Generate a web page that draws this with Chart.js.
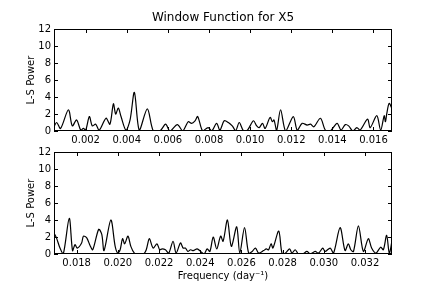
<!DOCTYPE html>
<html>
<head>
<meta charset="utf-8">
<script src="https://cdn.jsdelivr.net/npm/chart.js@4.4.1/dist/chart.umd.min.js"></script>
<style>
  html, body { margin: 0; padding: 0; background: #fff; }
  #wrap { position: relative; width: 436px; height: 291px; }
  canvas { position: absolute; left: 0; }
</style>
</head>
<body>
<div id="wrap">
  <canvas id="top" width="436" height="150" style="top:0"></canvas>
  <canvas id="bottom" width="436" height="160" style="top:130px"></canvas>
</div>
<script>
// window function, top panel (frequency in day^-1, L-S power)
const topFreq = [
  0.00046, 0.00059, 0.00078, 0.00116, 0.00135, 0.00156, 0.00176, 0.00189, 0.00200, 0.00218,
  0.00232, 0.00249, 0.00266, 0.00299, 0.00318, 0.00335, 0.00346, 0.00359, 0.00372, 0.00396,
  0.00416, 0.00437, 0.00461, 0.00500, 0.00529, 0.00561, 0.00589, 0.00610, 0.00646, 0.00672,
  0.00699, 0.00715, 0.00732, 0.00745, 0.00769, 0.00796, 0.00813, 0.00837, 0.00853, 0.00874,
  0.00894, 0.00913, 0.00930, 0.00947, 0.00968, 0.00987, 0.01016, 0.01032, 0.01044, 0.01060,
  0.01073, 0.01097, 0.01108, 0.01116, 0.01129, 0.01148, 0.01173, 0.01210, 0.01229, 0.01253,
  0.01277, 0.01294, 0.01310, 0.01342, 0.01366, 0.01390, 0.01423, 0.01442, 0.01463, 0.01479,
  0.01500, 0.01519, 0.01535, 0.01571, 0.01584, 0.01616, 0.01635, 0.01652, 0.01658, 0.01665,
  0.01676, 0.01689
];
const topPower = [
  0.5, 1.0, 0.3, 2.5, 0.6, 1.3, 0.1, 0.3, 0.1, 1.7,
  0.6, 0.8, 0.1, 1.5, 0.8, 3.2, 2.0, 2.7, 1.7, 0.1,
  1.3, 4.55, 0.1, 2.6, 0.0, 0.0, 0.8, 0.0, 0.75, 0.0,
  1.1, 0.9, 1.2, 1.7, 0.0, 0.4, 0.0, 0.9, 0.1, 1.2,
  1.0, 0.6, 0.05, 1.0, 0.0, 0.1, 1.2, 0.6, 0.4, 0.9,
  0.3, 1.6, 1.1, 1.3, 0.1, 2.5, 0.0, 1.7, 0.1, 0.9,
  0.7, 0.8, 0.5, 1.5, 0.1, 0.0, 0.9, 0.1, 0.75, 0.6,
  0.0, 0.4, 0.1, 1.4, 0.4, 1.8, 0.1, 1.8, 1.1, 2.1,
  3.25, 2.7
];
const topTicks = [0.002, 0.004, 0.006, 0.008, 0.010, 0.012, 0.014, 0.016];

// bottom panel
const botFreq = [
  0.01689, 0.01702, 0.01719, 0.01735, 0.01764, 0.01780, 0.01792, 0.01803, 0.01824, 0.01833,
  0.01849, 0.01865, 0.01878, 0.01907, 0.01922, 0.01933, 0.01966, 0.01987, 0.02000, 0.02011,
  0.02023, 0.02033, 0.02049, 0.02063, 0.02080, 0.02093, 0.02125, 0.02138, 0.02153, 0.02171,
  0.02190, 0.02203, 0.02215, 0.02231, 0.02247, 0.02268, 0.02283, 0.02304, 0.02317, 0.02328,
  0.02340, 0.02353, 0.02366, 0.02385, 0.02402, 0.02418, 0.02434, 0.02447, 0.02463, 0.02480,
  0.02499, 0.02511, 0.02532, 0.02551, 0.02577, 0.02592, 0.02615, 0.02635, 0.02652, 0.02668,
  0.02684, 0.02708, 0.02721, 0.02732, 0.02744, 0.02753, 0.02781, 0.02797, 0.02813, 0.02834,
  0.02845, 0.02861, 0.02877, 0.02898, 0.02918, 0.02934, 0.02958, 0.02974, 0.02995, 0.03006,
  0.03031, 0.03047, 0.03079, 0.03103, 0.03119, 0.03131, 0.03144, 0.03168, 0.03192, 0.03216,
  0.03232, 0.03253, 0.03276, 0.03289, 0.03305, 0.03318, 0.03332
];
const botPower = [
  2.5, 1.9, 0.7, 0.0, 4.2, 0.4, 1.1, 0.7, 1.3, 2.1,
  1.9, 1.0, 0.5, 2.9, 2.3, 0.4, 4.0, 0.9, 0.1, 0.5,
  1.8, 1.2, 2.1, 0.9, 0.1, 0.0, 0.0, 0.5, 1.8, 0.7,
  1.2, 0.5, 0.6, 0.5, 0.1, 1.5, 0.1, 1.3, 0.7, 0.7,
  0.3, 0.5, 0.4, 0.6, 0.3, 0.0, 0.6, 0.3, 2.0, 0.6,
  2.1, 1.5, 4.0, 0.9, 3.2, 0.1, 3.1, 0.1, 0.3, 0.7,
  0.1, 0.4, 0.6, 0.5, 1.2, 0.7, 2.7, 0.1, 0.1, 0.6,
  0.1, 0.5, 0.0, 0.0, 0.3, 0.0, 0.3, 0.1, 0.7, 0.3,
  0.7, 0.1, 3.1, 0.4, 1.2, 0.5, 0.3, 3.3, 0.3, 1.8,
  0.7, 0.1, 0.8, 0.5, 2.2, 0.1, 1.7
];
const botTicks = [0.018, 0.020, 0.022, 0.024, 0.026, 0.028, 0.030, 0.032];

const powerTicks = [0, 2, 4, 6, 8, 10, 12];

const FONT = '"DejaVu Sans", "Bitstream Vera Sans", sans-serif';
Chart.defaults.font.family = FONT;
Chart.defaults.font.size = 10;
Chart.defaults.color = '#000';

// matplotlib-like frame with inward ticks on all four sides, plus the texts
const framePlugin = {
  id: 'frame',
  afterDraw(chart, args, opts) {
    const { ctx, chartArea: { left, right, top, bottom }, scales: { x, y } } = chart;
    ctx.save();
    ctx.strokeStyle = '#000';
    ctx.lineWidth = 1;
    ctx.strokeRect(left + 0.5, top + 0.5, right - left - 1, bottom - top - 1);
    ctx.beginPath();
    x.ticks.forEach((t) => {
      const px = Math.round(x.getPixelForValue(t.value)) + 0.5;
      ctx.moveTo(px, bottom); ctx.lineTo(px, bottom - 4);
      ctx.moveTo(px, top); ctx.lineTo(px, top + 4);
    });
    y.ticks.forEach((t) => {
      const py = Math.round(y.getPixelForValue(t.value)) + 0.5;
      ctx.moveTo(left, py); ctx.lineTo(left + 4, py);
      ctx.moveTo(right, py); ctx.lineTo(right - 4, py);
    });
    ctx.stroke();

    ctx.fillStyle = '#000';
    ctx.textAlign = 'center';
    ctx.textBaseline = 'middle';
    // y label
    ctx.save();
    ctx.translate(31, (top + bottom) / 2);
    ctx.rotate(-Math.PI / 2);
    ctx.font = '10px ' + FONT;
    ctx.fillText('L-S Power', 0, 0);
    ctx.restore();
    if (opts.title) {
      ctx.font = '12px ' + FONT;
      ctx.fillText(opts.title, (left + right) / 2, 18);
    }
    if (opts.xlabel) {
      ctx.font = '10px ' + FONT;
      ctx.fillText(opts.xlabel, (left + right) / 2, opts.xlabelY);
    }
    ctx.restore();
  }
};

function makeChart(id, xs, ys, xMin, xMax, xTicks, padTop, xHeight, extra) {
  return new Chart(document.getElementById(id), {
    type: 'line',
    data: {
      datasets: [{
        data: xs.map((v, i) => ({ x: v, y: ys[i] })),
        borderColor: '#000',
        borderWidth: 1.2,
        pointRadius: 0,
        tension: 0.3,
        fill: false
      }]
    },
    options: {
      responsive: false,
      animation: false,
      devicePixelRatio: 1,
      layout: { padding: { left: 0, right: 44, top: padTop, bottom: 0 } },
      plugins: { legend: { display: false }, tooltip: { enabled: false }, frame: extra },
      scales: {
        x: {
          type: 'linear',
          min: xMin,
          max: xMax,
          grid: { display: false, drawTicks: false },
          border: { display: false },
          afterBuildTicks: (s) => { s.ticks = xTicks.map((v) => ({ value: v })); },
          afterFit: (s) => { s.height = xHeight; },
          ticks: { padding: 3, maxRotation: 0, autoSkip: false, callback: (v) => v.toFixed(3) }
        },
        y: {
          min: 0,
          max: 12,
          grid: { display: false, drawTicks: false },
          border: { display: false },
          afterBuildTicks: (s) => { s.ticks = powerTicks.map((v) => ({ value: v })); },
          afterFit: (s) => { s.width = 54; },
          ticks: { padding: 3, callback: (v) => String(v) }
        }
      }
    },
    plugins: [framePlugin]
  });
}

makeChart('top', topFreq, topPower, 0.00046, 0.0169, topTicks, 29, 19,
  { title: 'Window Function for X5' });
makeChart('bottom', botFreq, botPower, 0.0169, 0.03331, botTicks, 22, 36,
  { xlabel: 'Frequency (day\u207B\u00B9)', xlabelY: 146 });
</script>
</body>
</html>
